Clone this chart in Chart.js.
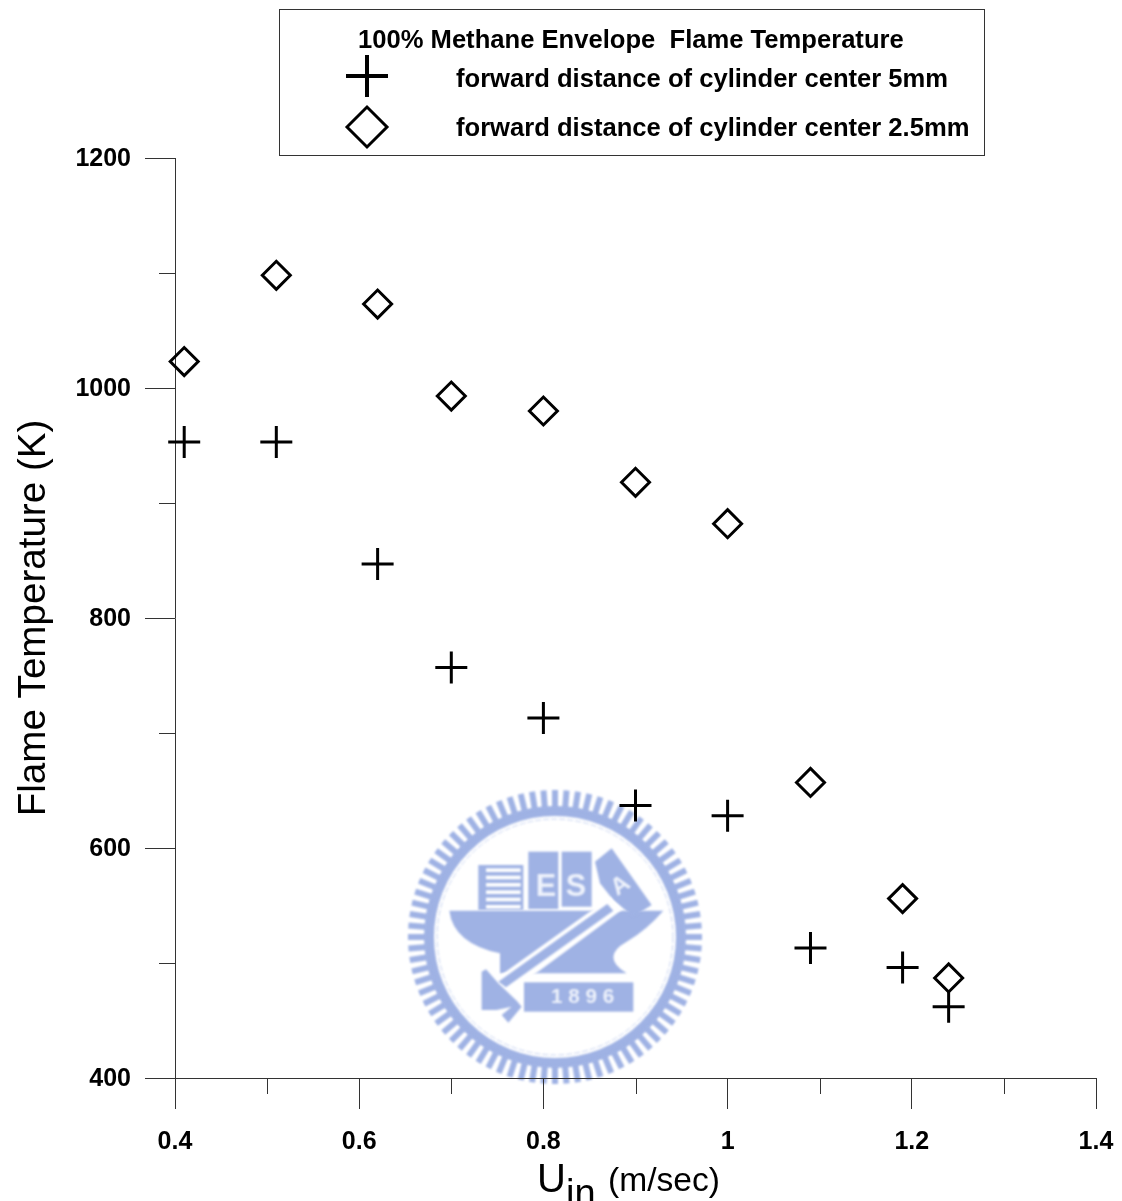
<!DOCTYPE html>
<html>
<head>
<meta charset="utf-8">
<title>Flame Temperature</title>
<script src="https://cdn.jsdelivr.net/npm/chart.js@4"></script>
<style>
  html, body { margin: 0; padding: 0; background: #fff; }
  canvas { display: block; }
</style>
</head>
<body>
<canvas id="myChart" width="1122" height="1201"></canvas>
<script>
// values
const uinValues = [0.41, 0.51, 0.62, 0.70, 0.80, 0.90, 1.00, 1.09, 1.19, 1.24];
const temps5mm = [953, 953, 847, 757, 713, 637, 628, 513, 496, 462];
const temps25mm = [1023, 1098, 1073, 993, 980, 918, 882, 657, 556, 487];

const xTickLabels = ['0.4', '0.6', '0.8', '1', '1.2', '1.4'];
const yTickLabels = ['400', '600', '800', '1000', '1200'];
const xMinorTicks = [0.5, 0.7, 0.9, 1.1, 1.3];
const yMinorTicks = [500, 700, 900, 1100];

const legendTitle = '100% Methane Envelope  Flame Temperature';
const label5mm = 'forward distance of cylinder center 5mm';
const label25mm = 'forward distance of cylinder center 2.5mm';

const FONT = '"Liberation Sans", Arial, sans-serif';
const AXIS_COLOR = '#333';

function toPoints(ys) {
  return uinValues.map((x, i) => ({ x: x, y: ys[i] }));
}

// short ticks between the labelled ones
const minorTicks = {
  id: 'minorTicks',
  afterDraw(chart) {
    const ctx = chart.ctx;
    const xs = chart.scales.x, ys = chart.scales.y;
    ctx.save();
    ctx.strokeStyle = AXIS_COLOR;
    ctx.lineWidth = 1;
    ctx.beginPath();
    xMinorTicks.forEach(v => {
      const px = Math.round(xs.getPixelForValue(v)) + 0.5;
      ctx.moveTo(px, ys.bottom);
      ctx.lineTo(px, ys.bottom + 16);
    });
    yMinorTicks.forEach(v => {
      const py = Math.round(ys.getPixelForValue(v)) + 0.5;
      ctx.moveTo(xs.left, py);
      ctx.lineTo(xs.left - 16, py);
    });
    ctx.stroke();
    ctx.restore();
  }
};

// the university seal behind the points
const seal = {
  id: 'seal',
  beforeDraw(chart) {
    const ctx = chart.ctx;
    const blue = '#9fb2e4';
    const cx = 555, cy = 937;
    ctx.save();
    ctx.filter = 'blur(1px)';
    ctx.strokeStyle = blue;
    ctx.lineWidth = 10;
    ctx.beginPath();
    ctx.arc(cx, cy, 126, 0, Math.PI * 2);
    ctx.stroke();
    ctx.lineWidth = 6;
    for (let i = 0; i < 80; i++) {
      const a = i * Math.PI / 40;
      ctx.beginPath();
      ctx.moveTo(cx + Math.cos(a) * 128, cy + Math.sin(a) * 128);
      ctx.lineTo(cx + Math.cos(a) * 147, cy + Math.sin(a) * 147);
      ctx.stroke();
    }
    ctx.lineWidth = 1;
    ctx.strokeStyle = '#c6d2f0';
    ctx.setLineDash([6, 2]);
    ctx.beginPath();
    ctx.arc(cx, cy, 118, 0, Math.PI * 2);
    ctx.stroke();
    ctx.setLineDash([]);

    // shapes measured in a 3x crop that starts at 400,780
    ctx.translate(400, 780);
    ctx.scale(1 / 3, 1 / 3);
    const poly = (pts, color) => {
      ctx.fillStyle = color;
      ctx.beginPath();
      pts.forEach((p, i) => i ? ctx.lineTo(p[0], p[1]) : ctx.moveTo(p[0], p[1]));
      ctx.closePath();
      ctx.fill();
    };
    // hull
    ctx.fillStyle = blue;
    ctx.beginPath();
    ctx.moveTo(148, 392);
    ctx.lineTo(790, 392);
    ctx.quadraticCurveTo(740, 450, 680, 485);
    ctx.quadraticCurveTo(600, 530, 680, 580);
    ctx.lineTo(300, 580);
    ctx.lineTo(300, 520);
    ctx.quadraticCurveTo(160, 490, 148, 392);
    ctx.fill();
    // cargo
    ctx.fillRect(235, 255, 135, 135);
    ctx.fillRect(385, 215, 90, 172);
    ctx.fillRect(485, 215, 90, 165);
    poly([[585, 245], [635, 205], [755, 375], [700, 410], [640, 360], [600, 310]], blue);
    ctx.fillStyle = '#fff';
    for (let y = 265; y < 390; y += 22) ctx.fillRect(258, y, 104, 11);
    // crossing bar
    poly([[275, 605], [630, 352], [665, 390], [340, 630]], '#fff');
    poly([[295, 605], [622, 372], [640, 392], [318, 622]], blue);
    // hammer
    poly([[245, 575], [258, 568], [295, 610], [350, 662], [365, 680], [325, 728], [305, 705], [335, 680], [290, 690], [245, 690]], blue);
    // banner
    ctx.fillStyle = blue;
    ctx.fillRect(372, 607, 328, 88);
    // lettering
    ctx.fillStyle = '#eef2fb';
    ctx.textAlign = 'center';
    ctx.textBaseline = 'middle';
    ctx.font = 'bold 62px ' + FONT;
    ctx.fillText('1 8 9 6', 548, 652);
    ctx.font = 'bold 92px ' + FONT;
    ctx.fillText('E', 438, 322);
    ctx.fillText('S', 528, 322);
    ctx.save();
    ctx.translate(662, 318);
    ctx.rotate(-0.6);
    ctx.font = 'bold 72px ' + FONT;
    ctx.fillText('A', 0, 0);
    ctx.restore();
    ctx.restore();
  }
};

// boxed legend and the subscripted x title
const annotations = {
  id: 'annotations',
  afterDraw(chart) {
    const ctx = chart.ctx;
    const h = Chart.helpers;
    ctx.save();
    ctx.fillStyle = '#fff';
    ctx.fillRect(279.5, 9.5, 705, 146);
    ctx.strokeStyle = AXIS_COLOR;
    ctx.lineWidth = 1;
    ctx.strokeRect(279.5, 9.5, 705, 146);

    ctx.fillStyle = '#000';
    ctx.textBaseline = 'alphabetic';
    ctx.textAlign = 'left';
    ctx.font = 'bold 25.6px ' + FONT;
    ctx.fillText(legendTitle, 358, 48);
    ctx.fillText(label5mm, 456, 87);
    ctx.fillText(label25mm, 456, 136);

    ctx.strokeStyle = '#000';
    ctx.lineWidth = 4;
    h.drawPoint(ctx, { pointStyle: 'cross', radius: 21, rotation: 0, borderWidth: 4 }, 367, 76);
    ctx.fillStyle = 'rgba(255,255,255,0)';
    ctx.lineWidth = 3;
    h.drawPoint(ctx, { pointStyle: 'rectRot', radius: 20, rotation: 0, borderWidth: 3 }, 367, 127);

    ctx.fillStyle = '#000';
    ctx.font = '40px ' + FONT;
    ctx.fillText('U', 537, 1192);
    ctx.font = '38px ' + FONT;
    ctx.fillText('in', 566, 1206);
    ctx.font = '33.6px ' + FONT;
    ctx.fillText('(m/sec)', 608, 1191);
    ctx.restore();
  }
};

new Chart(document.getElementById('myChart').getContext('2d'), {
  type: 'scatter',
  data: {
    datasets: [
      {
        label: label5mm,
        data: toPoints(temps5mm),
        pointStyle: 'cross',
        pointRadius: 16,
        pointHoverRadius: 16,
        pointBorderWidth: 3,
        pointBorderColor: '#000',
        showLine: false,
        clip: false
      },
      {
        label: label25mm,
        data: toPoints(temps25mm),
        pointStyle: 'rectRot',
        pointRadius: 14,
        pointHoverRadius: 14,
        pointBorderWidth: 3,
        pointBorderColor: '#000',
        pointBackgroundColor: 'rgba(255,255,255,0)',
        showLine: false,
        clip: false
      }
    ]
  },
  options: {
    responsive: false,
    animation: false,
    layout: { padding: { top: 158, right: 26, bottom: 0, left: 0 } },
    plugins: {
      legend: { display: false },
      title: { display: false },
      tooltip: { enabled: false }
    },
    scales: {
      x: {
        type: 'linear',
        min: 0.4,
        max: 1.4,
        afterFit: s => { s.height = 123; s.paddingRight = 0; },
        border: { display: true, color: AXIS_COLOR, width: 1 },
        grid: { drawOnChartArea: false, tickLength: 31, tickColor: AXIS_COLOR, tickWidth: 1 },
        ticks: {
          stepSize: 0.2,
          autoSkip: false,
          maxRotation: 0,
          padding: 18,
          color: '#000',
          font: { family: FONT, size: 25, weight: 'bold' },
          callback: (v, i) => xTickLabels[i]
        }
      },
      y: {
        min: 400,
        max: 1200,
        afterFit: s => { s.width = 175; },
        border: { display: true, color: AXIS_COLOR, width: 1 },
        grid: { drawOnChartArea: false, tickLength: 30, tickColor: AXIS_COLOR, tickWidth: 1 },
        title: {
          display: true,
          text: 'Flame Temperature (K)',
          color: '#000',
          font: { family: FONT, size: 38.6 },
          padding: { top: 11, bottom: 0 }
        },
        ticks: {
          stepSize: 200,
          autoSkip: false,
          padding: 14,
          labelOffset: 1,
          color: '#000',
          font: { family: FONT, size: 25, weight: 'bold' },
          callback: (v, i) => yTickLabels[i]
        }
      }
    }
  },
  plugins: [seal, minorTicks, annotations]
});
</script>
</body>
</html>
